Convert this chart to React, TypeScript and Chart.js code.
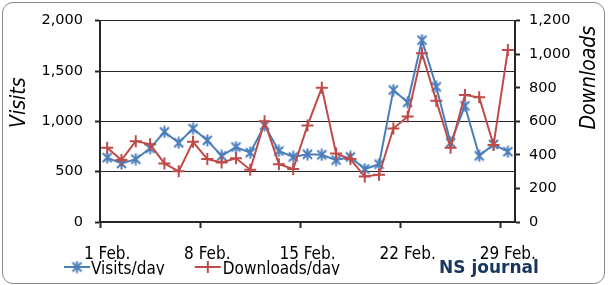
import React, { useEffect, useRef } from 'react';
import { Chart, registerables } from 'chart.js';

Chart.register(...registerables);

const categories = [
  '1 Feb.', '2 Feb.', '3 Feb.', '4 Feb.', '5 Feb.', '6 Feb.', '7 Feb.', '8 Feb.', '9 Feb.', '10 Feb.',
  '11 Feb.', '12 Feb.', '13 Feb.', '14 Feb.', '15 Feb.', '16 Feb.', '17 Feb.', '18 Feb.', '19 Feb.', '20 Feb.',
  '21 Feb.', '22 Feb.', '23 Feb.', '24 Feb.', '25 Feb.', '26 Feb.', '27 Feb.', '28 Feb.', '29 Feb.',
];
const labelEvery = 7;

const visitsPerDay = [
  640, 581, 624, 732, 895, 787, 928, 811, 657, 745,
  689, 961, 706, 647, 673, 667, 615, 647, 526, 575,
  1311, 1189, 1807, 1343, 787, 1154, 657, 771, 699,
];
const downloadsPerDay = [
  443, 369, 482, 463, 349, 302, 478, 375, 355, 380,
  312, 600, 345, 316, 576, 800, 408, 375, 271, 282,
  557, 629, 1006, 723, 443, 757, 743, 459, 1025,
];

const visitsTicks = { min: 0, max: 2000, step: 500 };
const downloadsTicks = { min: 0, max: 1200, step: 200 };

const seriesNames = ['Visits/day', 'Downloads/day'];
const leftTitle = 'Visits';
const rightTitle = 'Downloads';
const brand = 'NS journal';

const BLUE = '#4A7EBB';
const RED = '#BE4B48';
const AXIS = '#262626';
const FONT = 'DejaVu Sans';
const FONT_C = '"DejaVu Sans Condensed", "DejaVu Sans", sans-serif';

function makeStar(color: string): HTMLCanvasElement {
  const c = document.createElement('canvas');
  c.width = 13;
  c.height = 13;
  const g = c.getContext('2d')!;
  g.strokeStyle = color;
  g.lineWidth = 2;
  g.beginPath();
  g.moveTo(2, 2);
  g.lineTo(11, 11);
  g.moveTo(11, 2);
  g.lineTo(2, 11);
  g.moveTo(6.5, 0.5);
  g.lineTo(6.5, 12.5);
  g.stroke();
  return c;
}

function drawPlus(ctx: CanvasRenderingContext2D, x: number, y: number, r: number, color: string) {
  ctx.save();
  ctx.strokeStyle = color;
  ctx.lineWidth = 2;
  ctx.beginPath();
  ctx.moveTo(x - r, y);
  ctx.lineTo(x + r, y);
  ctx.moveTo(x, y - r);
  ctx.lineTo(x, y + r);
  ctx.stroke();
  ctx.restore();
}

export default function App() {
  const ref = useRef<HTMLCanvasElement | null>(null);

  useEffect(() => {
    document.body.style.margin = '0';
    const canvas = ref.current;
    if (!canvas) return;
    const star = makeStar(BLUE);

    const extras = {
      id: 'extras',
      afterDraw(chart: any) {
        const { ctx, chartArea } = chart;
        ctx.save();
        ctx.fillStyle = '#000';
        ctx.textAlign = 'center';
        ctx.textBaseline = 'middle';
        ctx.font = `italic 21px ${FONT_C}`;
        // left title
        ctx.save();
        ctx.translate(chartArea.left - 80, chartArea.top + 82);
        ctx.rotate(-Math.PI / 2);
        ctx.fillText(leftTitle, 0, 0);
        ctx.restore();
        // right title
        ctx.save();
        ctx.translate(chartArea.right + 75, chartArea.top + 57);
        ctx.rotate(-Math.PI / 2);
        ctx.fillText(rightTitle, 0, 0);
        ctx.restore();

        // legend
        ctx.save();
        ctx.beginPath();
        ctx.rect(0, 0, chart.width, chartArea.bottom + 53);
        ctx.clip();
        ctx.font = `17px ${FONT_C}`;
        ctx.textAlign = 'left';
        ctx.textBaseline = 'alphabetic';
        const ly = chartArea.bottom + 45;
        const base = chartArea.bottom + 52;
        let x = chartArea.left - 36;
        ctx.strokeStyle = BLUE;
        ctx.lineWidth = 2;
        ctx.beginPath();
        ctx.moveTo(x, ly);
        ctx.lineTo(x + 26, ly);
        ctx.stroke();
        ctx.drawImage(star, x + 13 - star.width / 2, ly - star.height / 2);
        ctx.fillText(seriesNames[0], x + 27, base);
        x = x + 27 + ctx.measureText(seriesNames[0]).width + 30;
        ctx.strokeStyle = RED;
        ctx.beginPath();
        ctx.moveTo(x, ly);
        ctx.lineTo(x + 26, ly);
        ctx.stroke();
        drawPlus(ctx, x + 13, ly, 6, RED);
        ctx.fillText(seriesNames[1], x + 28, base);
        ctx.restore();

        // brand
        ctx.font = `bold 17px ${FONT}`;
        ctx.fillStyle = '#17375E';
        ctx.textAlign = 'left';
        ctx.textBaseline = 'alphabetic';
        ctx.fillText(brand, chartArea.right - 76, chartArea.bottom + 51);
        ctx.restore();
      },
    };

    const chart = new Chart(canvas, {
      type: 'line',
      data: {
        labels: categories,
        datasets: [
          {
            label: seriesNames[0],
            data: visitsPerDay,
            yAxisID: 'y',
            borderColor: BLUE,
            backgroundColor: BLUE,
            borderWidth: 2,
            pointStyle: star as any,
            pointRadius: 6,
            tension: 0,
            order: 1,
          },
          {
            label: seriesNames[1],
            data: downloadsPerDay,
            yAxisID: 'y1',
            borderColor: RED,
            backgroundColor: RED,
            borderWidth: 2,
            pointStyle: 'cross',
            pointRadius: 6,
            pointBorderWidth: 2,
            tension: 0,
            order: 0,
          },
        ],
      },
      options: {
        animation: false,
        responsive: false,
        maintainAspectRatio: false,
        layout: { padding: { top: 18, left: 0, right: 0, bottom: 0 } },
        plugins: {
          legend: { display: false },
          tooltip: { enabled: false },
        },
        scales: {
          x: {
            type: 'category',
            offset: true,
            grid: {
              offset: true,
              drawOnChartArea: false,
              tickLength: 6,
              tickWidth: 2,
              tickColor: (c: any) => (c.index % labelEvery === 0 ? AXIS : 'rgba(0,0,0,0)'),
            },
            border: { color: AXIS, width: 2 },
            ticks: {
              autoSkip: false,
              maxRotation: 0,
              minRotation: 0,
              padding: 16,
              color: '#000',
              font: { family: FONT_C, size: 17 },
              callback: (_v: any, i: number) => (i % labelEvery === 0 ? categories[i] : ''),
            },
            afterFit: (s: any) => {
              s.height = 63;
            },
          },
          y: {
            position: 'left',
            min: visitsTicks.min,
            max: visitsTicks.max,
            ticks: {
              stepSize: visitsTicks.step,
              padding: 12,
              color: '#000',
              font: { family: FONT, size: 14.5 },
              callback: (v: any) => Number(v).toLocaleString('en-US'),
            },
            grid: { color: AXIS, lineWidth: 1, tickLength: 5, tickWidth: 2, tickColor: AXIS },
            border: { color: AXIS, width: 2 },
            afterFit: (s: any) => {
              s.width = 100;
            },
          },
          y1: {
            position: 'right',
            min: downloadsTicks.min,
            max: downloadsTicks.max,
            ticks: {
              stepSize: downloadsTicks.step,
              padding: 9,
              color: '#000',
              font: { family: FONT, size: 14.5 },
              callback: (v: any) => Number(v).toLocaleString('en-US'),
            },
            grid: { drawOnChartArea: false, tickLength: 5, tickWidth: 2, tickColor: AXIS },
            border: { color: AXIS, width: 2 },
            afterFit: (s: any) => {
              s.width = 93;
            },
          },
        },
      },
      plugins: [extras],
    });
    return () => chart.destroy();
  }, []);

  return (
    <div style={{ position: 'relative', width: 608, height: 285, background: '#fff' }}>
      <canvas ref={ref} width={608} height={285} style={{ display: 'block' }} />
      <div
        style={{
          position: 'absolute',
          left: 2,
          top: 2,
          width: 603,
          height: 282,
          boxSizing: 'border-box',
          border: '1px solid #8a8a8a',
          borderRadius: 11,
          pointerEvents: 'none',
        }}
      />
    </div>
  );
}
